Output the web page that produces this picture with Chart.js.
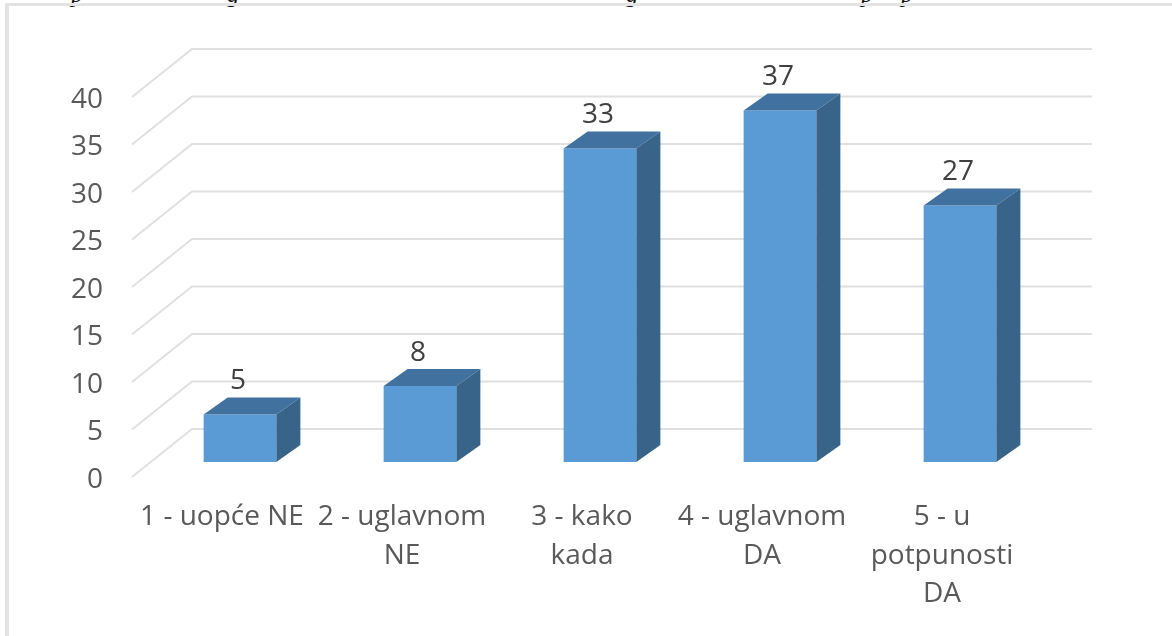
<!DOCTYPE html>
<html>
<head>
<meta charset="utf-8">
<title>Odgovori</title>
<script src="https://cdn.jsdelivr.net/npm/chart.js@4"></script>
<style>
    html, body { margin: 0; padding: 0; background: #fff; overflow: hidden; }
    #wrap { position: relative; width: 1172px; height: 636px; overflow: hidden; }
    #wrap canvas { position: absolute; left: 0; top: 0; }
    /* chart frame: only the top and left edges show */
    .edge { position: absolute; background: #e3e3e3; }
    #edgeTop { left: 5px; top: 3px; width: 1167px; height: 3px; }
    #edgeLeft { left: 5px; top: 3px; width: 4px; height: 633px; }
    /* caption line above the chart, cut off by the frame */
    .cap { position: absolute; top: -18px; font: italic 24px "Liberation Serif", serif; color: #111; line-height: 24px; }
</style>
</head>
<body>
<div id="wrap">
    <span class="cap" style="left:71px">p</span>
    <span class="cap" style="left:227px">g</span>
    <span class="cap" style="left:626px">g</span>
    <span class="cap" style="left:861px">p</span>
    <span class="cap" style="left:901px">p</span>
    <canvas id="chart" width="1172" height="636"></canvas>
    <div class="edge" id="edgeTop"></div>
    <div class="edge" id="edgeLeft"></div>
</div>
<script>
const categories = [
    ['1 - uopće NE'],
    ['2 - uglavnom', 'NE'],
    ['3 - kako', 'kada'],
    ['4 - uglavnom', 'DA'],
    ['5 - u', 'potpunosti', 'DA']
];
const values = [5, 8, 33, 37, 27];
const yMax = 40;
const yStep = 5;

const FONT = '"Open Sans", sans-serif';
const TEXT_COLOR = '#595959';

// depth of the floor, and where the bars sit along it
const WALL = { x: 60, y: -48 };
const BAR_FRONT = { x: 18, y: -18 };
const BAR_BACK = { x: 42, y: -35 };
// tick labels sit a little below their gridlines
const GRID_LIFT = -3;

function poly(ctx, pts, color) {
    ctx.fillStyle = color;
    ctx.beginPath();
    pts.forEach((p, i) => i ? ctx.lineTo(p[0], p[1]) : ctx.moveTo(p[0], p[1]));
    ctx.closePath();
    ctx.fill();
}

// gridlines on the side wall and the back wall
const wallGrid = {
    id: 'wallGrid',
    beforeDatasetsDraw(chart) {
        const ctx = chart.ctx;
        const area = chart.chartArea;
        const y = chart.scales.y;
        ctx.save();
        ctx.strokeStyle = '#e0e0e0';
        ctx.lineWidth = 2;
        for (let v = 0; v <= yMax; v += yStep) {
            const py = y.getPixelForValue(v) + GRID_LIFT;
            ctx.beginPath();
            ctx.moveTo(area.left, py);
            ctx.lineTo(area.left + WALL.x, py + WALL.y);
            ctx.lineTo(area.right + WALL.x, py + WALL.y);
            ctx.stroke();
        }
        ctx.restore();
        // bars stand part way back on the floor
        ctx.save();
        ctx.translate(BAR_FRONT.x, BAR_FRONT.y);
    },
    afterDatasetsDraw(chart) {
        const ctx = chart.ctx;
        const meta = chart.getDatasetMeta(0);
        const dx = BAR_BACK.x - BAR_FRONT.x;
        const dy = BAR_BACK.y - BAR_FRONT.y;
        meta.data.forEach((bar, i) => {
            const left = bar.x - bar.width / 2;
            const right = bar.x + bar.width / 2;
            poly(ctx, [[left, bar.y], [right, bar.y], [right + dx, bar.y + dy], [left + dx, bar.y + dy]], '#41729f');
            poly(ctx, [[right, bar.y], [right + dx, bar.y + dy], [right + dx, bar.base + dy], [right, bar.base]], '#38648a');

            ctx.fillStyle = '#404040';
            ctx.font = '28px ' + FONT;
            ctx.textAlign = 'center';
            ctx.textBaseline = 'middle';
            ctx.fillText(values[i], bar.x - 2, bar.y - 33);
        });
        ctx.restore();
    }
};

new Chart(document.getElementById('chart').getContext('2d'), {
    type: 'bar',
    data: {
        labels: categories,
        datasets: [{
            data: values,
            backgroundColor: '#5b9bd5',
            borderWidth: 0,
            barPercentage: 1,
            categoryPercentage: 0.404
        }]
    },
    plugins: [wallGrid],
    options: {
        responsive: false,
        animation: false,
        layout: { padding: { left: 0, right: 140, top: 100, bottom: 0 } },
        plugins: { legend: { display: false }, tooltip: { enabled: false } },
        scales: {
            x: {
                grid: { display: false },
                border: { display: false },
                afterFit(scale) { scale.height = 156; },
                ticks: {
                    color: TEXT_COLOR,
                    font: { family: FONT, size: 28, lineHeight: 1.375 },
                    padding: 10,
                    autoSkip: false,
                    maxRotation: 0
                }
            },
            y: {
                min: 0,
                max: yMax,
                grid: { display: false },
                border: { display: false },
                afterFit(scale) { scale.width = 132; },
                ticks: {
                    stepSize: yStep,
                    color: TEXT_COLOR,
                    font: { family: FONT, size: 28 },
                    padding: 21
                }
            }
        }
    }
});
</script>
</body>
</html>
